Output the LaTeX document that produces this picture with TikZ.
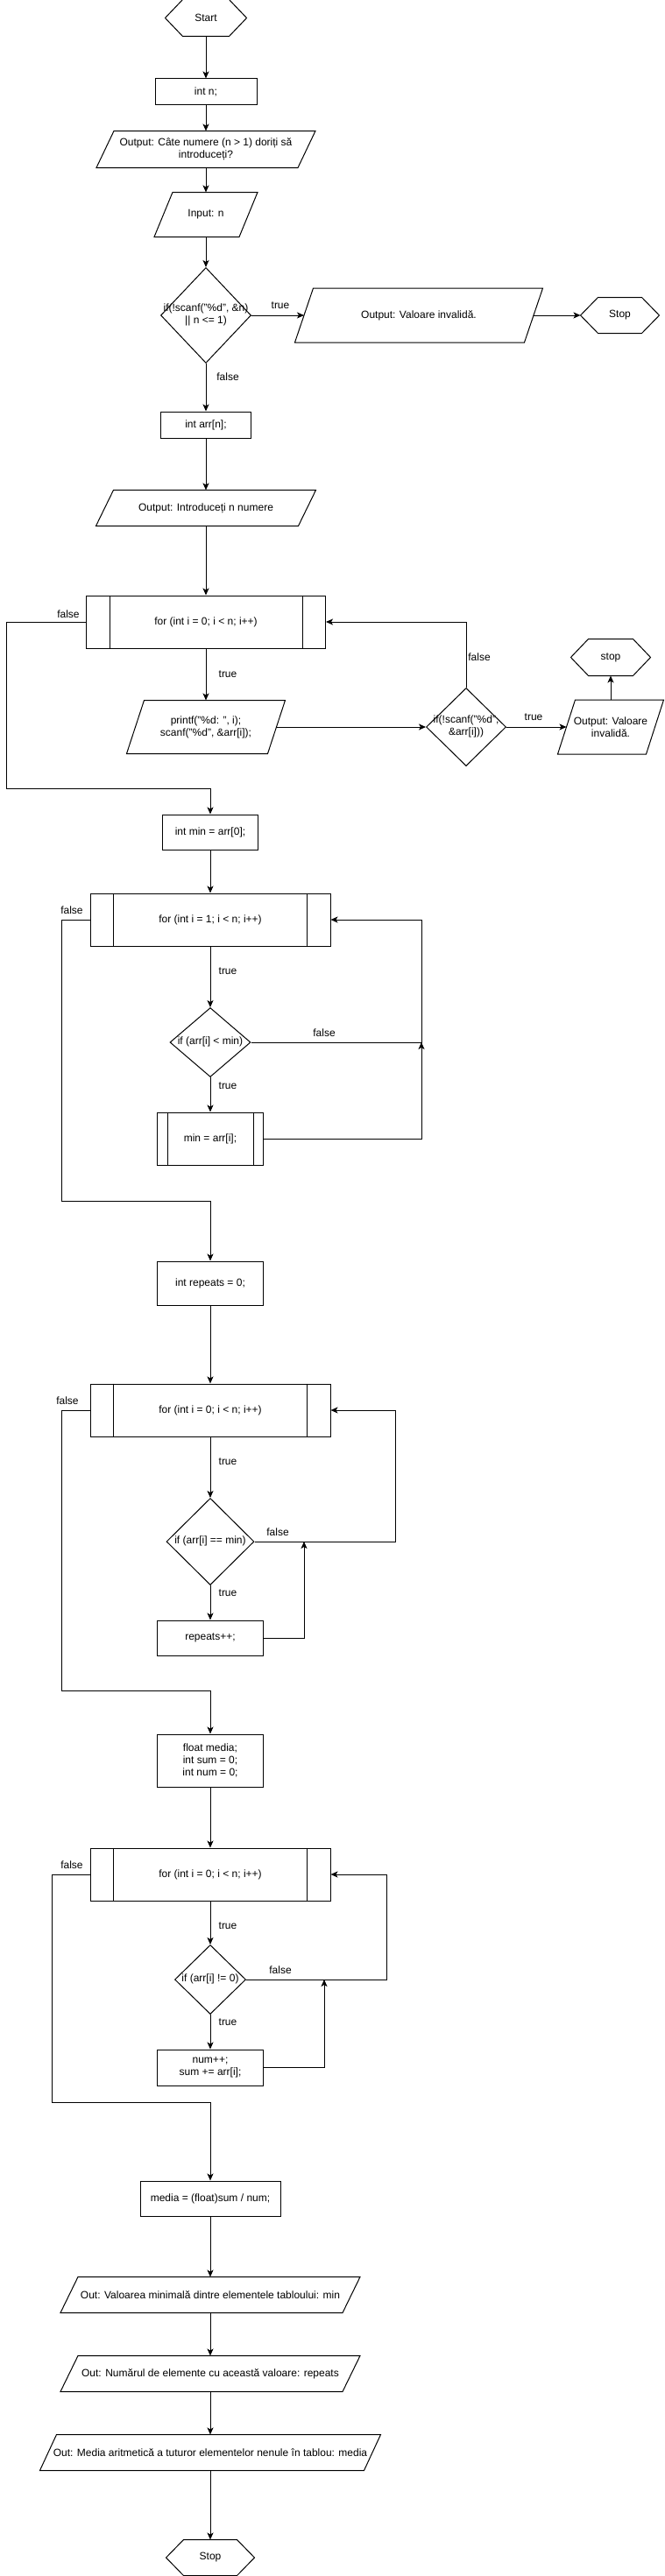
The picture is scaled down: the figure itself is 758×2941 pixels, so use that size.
\documentclass[tikz,border=0pt]{standalone}
\usepackage{fontspec}
\setmainfont{Liberation Sans}
\usetikzlibrary{arrows.meta,shapes.geometric}
\newcommand{\condtext}[1]{\makebox[0pt]{\begin{tabular}{@{}c@{}}#1\end{tabular}}}
\begin{document}
\begin{tikzpicture}[x=1pt, y=-1pt, line width=1pt, font=\fontsize{12}{14}\selectfont,
    flow_arrow/.style={-{Stealth[length=8pt,width=7pt,inset=2pt]}},
    lbl_node/.style={inner sep=0pt},
    proc_node/.style n args={2}{draw, minimum width=#1, minimum height=#2, inner sep=1pt, align=center},
    cond_node/.style n args={2}{draw, diamond, minimum width=#1, minimum height=#2, inner sep=0pt},
    loop_node/.style n args={3}{draw, minimum width=#1, minimum height=#2, inner sep=1pt, align=center,
        append after command={\pgfextra{\draw ([xshift=#3]\tikzlastnode.north west) -- ([xshift=#3]\tikzlastnode.south west)
            ([xshift=-#3]\tikzlastnode.north east) -- ([xshift=-#3]\tikzlastnode.south east);}}},
    io_node/.style n args={3}{minimum width=#1, minimum height=#2, inner sep=1pt, align=center,
        append after command={\pgfextra{\draw ([xshift=-#3/2]\tikzlastnode.south west) -- ([xshift=#3/2]\tikzlastnode.north west)
            -- ([xshift=#3/2]\tikzlastnode.north east) -- ([xshift=-#3/2]\tikzlastnode.south east) -- cycle;}}},
    hex_node/.style n args={2}{minimum width=#1, minimum height=#2, inner sep=0pt,
        append after command={\pgfextra{\draw (\tikzlastnode.west) -- ([xshift=20pt]\tikzlastnode.north west)
            -- ([xshift=-20pt]\tikzlastnode.north east) -- (\tikzlastnode.east)
            -- ([xshift=-20pt]\tikzlastnode.south east) -- ([xshift=20pt]\tikzlastnode.south west) -- cycle;}}}]
    \useasboundingbox (0,0) rectangle (758,2941);

    \node[hex_node={92}{41}] (start) at (235,20.5) {Start};
    \node[proc_node={116}{30}] (int_n) at (235,105) {int n;};
    \node[io_node={229}{41}{20}] (out_count) at (235,170.5) {Output: Câte numere (n > 1) doriți să\\introduceți?};
    \node[io_node={96}{50}{21}] (in_n) at (235,245) {Input: n};
    \node[cond_node={103}{109}] (check_n) at (235,360) {\condtext{if(!scanf("\%d", \&n)\\|| n <= 1)}};
    \node[io_node={261}{61}{21}] (out_bad_n) at (478,360) {Output: Valoare invalidă.};
    \node[hex_node={89}{40}] (stop_n) at (707.5,360) {Stop};
    \node[proc_node={103}{30}] (int_arr) at (235,485) {int arr[n];};
    \node[io_node={230}{40}{20}] (out_intro) at (235,580) {Output: Introduceți n numere};
    \node[loop_node={273}{60}{27}] (for_read) at (235,710) {for (int i = 0; i < n; i++)};
    \node[io_node={160}{60}{20}] (read_arr) at (235,830) {printf("\%d: ", i);\\scanf("\%d", \&arr[i]);};
    \node[cond_node={91}{89}] (check_arr) at (532,830) {\condtext{if(!scanf("\%d",\\\&arr[i]))}};
    \node[io_node={100}{61}{20}] (out_bad_arr) at (697,830) {Output: Valoare\\invalidă.};
    \node[hex_node={90}{41}] (stop_arr) at (697,750.5) {stop};
    \node[proc_node={109}{40}] (int_min) at (240,950) {int min = arr[0];};
    \node[loop_node={274}{60}{27}] (for_min) at (240,1050) {for (int i = 1; i < n; i++)};
    \node[cond_node={92}{79}] (cmp_min) at (240,1190) {\condtext{if (arr[i] < min)}};
    \node[loop_node={121}{60}{12}] (set_min) at (240,1300) {min = arr[i];};
    \node[proc_node={121}{50}] (int_repeats) at (240,1465) {int repeats = 0;};
    \node[loop_node={274}{60}{27}] (for_rep) at (240,1610) {for (int i = 0; i < n; i++)};
    \node[cond_node={100}{99}] (cmp_eq) at (240,1760) {\condtext{if (arr[i] == min)}};
    \node[proc_node={121}{40}] (inc_rep) at (240,1870) {repeats++;};
    \node[proc_node={121}{60}] (init_sum) at (240,2010) {float media;\\int sum = 0;\\int num = 0;};
    \node[loop_node={274}{60}{27}] (for_sum) at (240,2140) {for (int i = 0; i < n; i++)};
    \node[cond_node={81}{79}] (cmp_nz) at (240,2260) {\condtext{if (arr[i] != 0)}};
    \node[proc_node={121}{41}] (add_sum) at (240,2360.5) {num++;\\sum += arr[i];};
    \node[proc_node={160}{40}] (calc_media) at (240,2510) {media = (float)sum / num;};
    \node[io_node={321}{40}{20}] (out_min) at (240,2620) {Out: Valoarea minimală dintre elementele tabloului: min};
    \node[io_node={321}{40}{20}] (out_rep) at (240,2710) {Out: Numărul de elemente cu această valoare: repeats};
    \node[io_node={369}{40}{19}] (out_media) at (240,2800) {Out: Media aritmetică a tuturor elementelor nenule în tablou: media};
    \node[hex_node={100}{40}] (stop) at (240,2920) {Stop};

    \node[lbl_node] (t_n) at (320,349) {true};
    \node[lbl_node] (f_n) at (260,430) {false};
    \node[lbl_node] (f_read) at (78,701) {false};
    \node[lbl_node] (t_read) at (260,770) {true};
    \node[lbl_node] (f_arr) at (547,750) {false};
    \node[lbl_node] (t_arr) at (609,819) {true};
    \node[lbl_node] (f_min) at (82,1039) {false};
    \node[lbl_node] (t_min) at (260,1109) {true};
    \node[lbl_node] (f_cmp_min) at (370,1179) {false};
    \node[lbl_node] (t_cmp_min) at (260,1240) {true};
    \node[lbl_node] (f_rep) at (77,1599) {false};
    \node[lbl_node] (t_rep) at (260,1669) {true};
    \node[lbl_node] (f_cmp_eq) at (317,1749) {false};
    \node[lbl_node] (t_cmp_eq) at (260,1819) {true};
    \node[lbl_node] (f_sum) at (82,2129) {false};
    \node[lbl_node] (t_sum) at (260,2199) {true};
    \node[lbl_node] (f_cmp_nz) at (320,2249) {false};
    \node[lbl_node] (t_cmp_nz) at (260,2309) {true};

    \coordinate (exit_read) at (7,900);
    \coordinate (exit_min) at (70,1371);
    \coordinate (exit_rep) at (70,1930);
    \coordinate (exit_sum) at (59,2400);
    \coordinate (back_min) at (481,1190);
    \coordinate (back_rep) at (451,1760);
    \coordinate (join_rep) at (347,1760);
    \coordinate (back_sum) at (441,2260);
    \coordinate (join_sum) at (370,2260);

    \draw[flow_arrow] (start) -- (int_n);
    \draw[flow_arrow] (int_n) -- (out_count);
    \draw[flow_arrow] (out_count) -- (in_n);
    \draw[flow_arrow] (in_n) -- (check_n);
    \draw[flow_arrow] (check_n) -- (out_bad_n);
    \draw[flow_arrow] (out_bad_n) -- (stop_n);
    \draw[flow_arrow] (check_n) -- (int_arr);
    \draw[flow_arrow] (int_arr) -- (out_intro);
    \draw[flow_arrow] (out_intro) -- (for_read);
    \draw[flow_arrow] (for_read) -- (read_arr);
    \draw[flow_arrow] (read_arr) -- (check_arr);
    \draw[flow_arrow] (check_arr) -- (out_bad_arr);
    \draw[flow_arrow] (out_bad_arr) -- (stop_arr);
    \draw[flow_arrow] (check_arr.north) |- (for_read.east);
    \draw[flow_arrow] (for_read.west) -| (exit_read) -| (int_min.north);
    \draw[flow_arrow] (int_min) -- (for_min);
    \draw[flow_arrow] (for_min) -- (cmp_min);
    \draw[flow_arrow] (cmp_min) -- (set_min);
    \draw[flow_arrow] (cmp_min.east) -- (back_min) |- (for_min.east);
    \draw[flow_arrow] (set_min.east) -| (back_min);
    \draw[flow_arrow] (for_min.west) -| (exit_min) -| (int_repeats.north);
    \draw[flow_arrow] (int_repeats) -- (for_rep);
    \draw[flow_arrow] (for_rep) -- (cmp_eq);
    \draw[flow_arrow] (cmp_eq) -- (inc_rep);
    \draw[flow_arrow] (cmp_eq.east) -- (back_rep) |- (for_rep.east);
    \draw[flow_arrow] (inc_rep.east) -| (join_rep);
    \draw[flow_arrow] (for_rep.west) -| (exit_rep) -| (init_sum.north);
    \draw[flow_arrow] (init_sum) -- (for_sum);
    \draw[flow_arrow] (for_sum) -- (cmp_nz);
    \draw[flow_arrow] (cmp_nz) -- (add_sum);
    \draw[flow_arrow] (cmp_nz.east) -- (back_sum) |- (for_sum.east);
    \draw[flow_arrow] (add_sum.east) -| (join_sum);
    \draw[flow_arrow] (for_sum.west) -| (exit_sum) -| (calc_media.north);
    \draw[flow_arrow] (calc_media) -- (out_min);
    \draw[flow_arrow] (out_min) -- (out_rep);
    \draw[flow_arrow] (out_rep) -- (out_media);
    \draw[flow_arrow] (out_media) -- (stop);
\end{tikzpicture}
\end{document}
